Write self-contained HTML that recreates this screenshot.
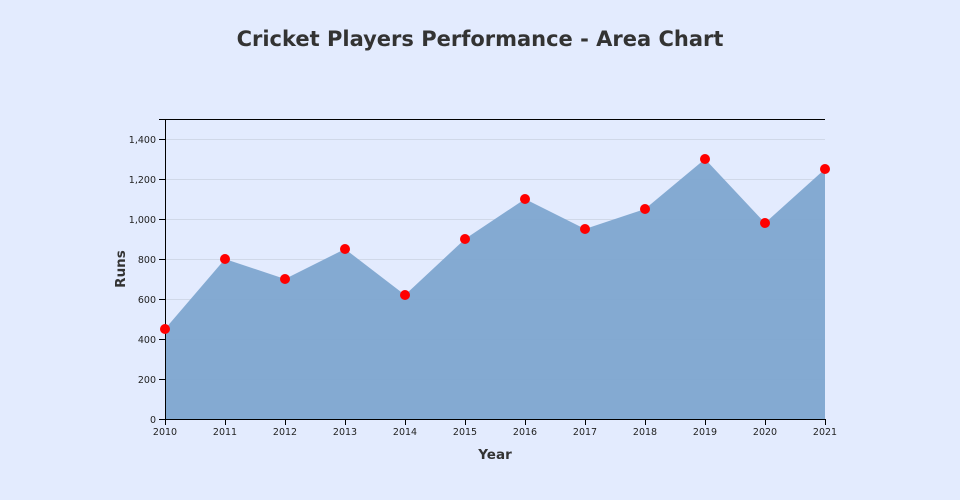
<!DOCTYPE html>
<html><head><meta charset="utf-8"><style>
html,body{margin:0;padding:0;background:#e3ebfe;}
svg{display:block;font-family:"DejaVu Sans","Liberation Sans",sans-serif;}
</style></head><body>
<svg width="960" height="500" viewBox="0 0 960 500">
<rect width="960" height="500" fill="#e3ebfe"/>
<text x="480" y="46" text-anchor="middle" font-size="21" font-weight="bold" fill="#333">Cricket Players Performance - Area Chart</text>
<g stroke="#d0d8e8" stroke-width="1">
<line x1="165" x2="825" y1="139.5" y2="139.5"/><line x1="165" x2="825" y1="179.5" y2="179.5"/>
<line x1="165" x2="825" y1="219.5" y2="219.5"/><line x1="165" x2="825" y1="259.5" y2="259.5"/>
<line x1="165" x2="825" y1="299.5" y2="299.5"/><line x1="165" x2="825" y1="339.5" y2="339.5"/>
<line x1="165" x2="825" y1="379.5" y2="379.5"/>
</g>
<polygon fill="#7ea7d0" fill-opacity="0.95" points="165,419 165,329 225,259 285,279 345,249 405,295 465,239 525,199 585,229 645,209 705,159 765,223 825,169 825,419"/>
<g stroke="#000" stroke-width="1" fill="none">
<line x1="159" x2="825" y1="119.5" y2="119.5"/>
<line x1="165.5" x2="165.5" y1="119" y2="425"/>
<line x1="159" x2="825" y1="419.5" y2="419.5"/>
<line x1="159" x2="165" y1="139.5" y2="139.5"/><line x1="159" x2="165" y1="179.5" y2="179.5"/>
<line x1="159" x2="165" y1="219.5" y2="219.5"/><line x1="159" x2="165" y1="259.5" y2="259.5"/>
<line x1="159" x2="165" y1="299.5" y2="299.5"/><line x1="159" x2="165" y1="339.5" y2="339.5"/>
<line x1="159" x2="165" y1="379.5" y2="379.5"/>
<line x1="225.5" x2="225.5" y1="419" y2="425"/><line x1="285.5" x2="285.5" y1="419" y2="425"/>
<line x1="345.5" x2="345.5" y1="419" y2="425"/><line x1="405.5" x2="405.5" y1="419" y2="425"/>
<line x1="465.5" x2="465.5" y1="419" y2="425"/><line x1="525.5" x2="525.5" y1="419" y2="425"/>
<line x1="585.5" x2="585.5" y1="419" y2="425"/><line x1="645.5" x2="645.5" y1="419" y2="425"/>
<line x1="705.5" x2="705.5" y1="419" y2="425"/><line x1="765.5" x2="765.5" y1="419" y2="425"/>
<line x1="825.5" x2="825.5" y1="419" y2="425"/>
</g>
<g font-size="9.5" fill="#222" text-anchor="end">
<text x="156" y="143">1,400</text><text x="156" y="183">1,200</text><text x="156" y="223">1,000</text>
<text x="156" y="263">800</text><text x="156" y="303">600</text><text x="156" y="343">400</text>
<text x="156" y="383">200</text><text x="156" y="423">0</text>
</g>
<g font-size="9.5" fill="#222" text-anchor="middle">
<text x="165" y="435">2010</text><text x="225" y="435">2011</text><text x="285" y="435">2012</text>
<text x="345" y="435">2013</text><text x="405" y="435">2014</text><text x="465" y="435">2015</text>
<text x="525" y="435">2016</text><text x="585" y="435">2017</text><text x="645" y="435">2018</text>
<text x="705" y="435">2019</text><text x="765" y="435">2020</text><text x="825" y="435">2021</text>
</g>
<text x="495" y="459" text-anchor="middle" font-size="13.5" font-weight="bold" fill="#333">Year</text>
<text transform="translate(125,269) rotate(-90)" text-anchor="middle" font-size="13.5" font-weight="bold" fill="#333">Runs</text>
<g fill="#f00">
<circle cx="165" cy="329" r="5"/><circle cx="225" cy="259" r="5"/><circle cx="285" cy="279" r="5"/>
<circle cx="345" cy="249" r="5"/><circle cx="405" cy="295" r="5"/><circle cx="465" cy="239" r="5"/>
<circle cx="525" cy="199" r="5"/><circle cx="585" cy="229" r="5"/><circle cx="645" cy="209" r="5"/>
<circle cx="705" cy="159" r="5"/><circle cx="765" cy="223" r="5"/><circle cx="825" cy="169" r="5"/>
</g>
</svg>
</body></html>
